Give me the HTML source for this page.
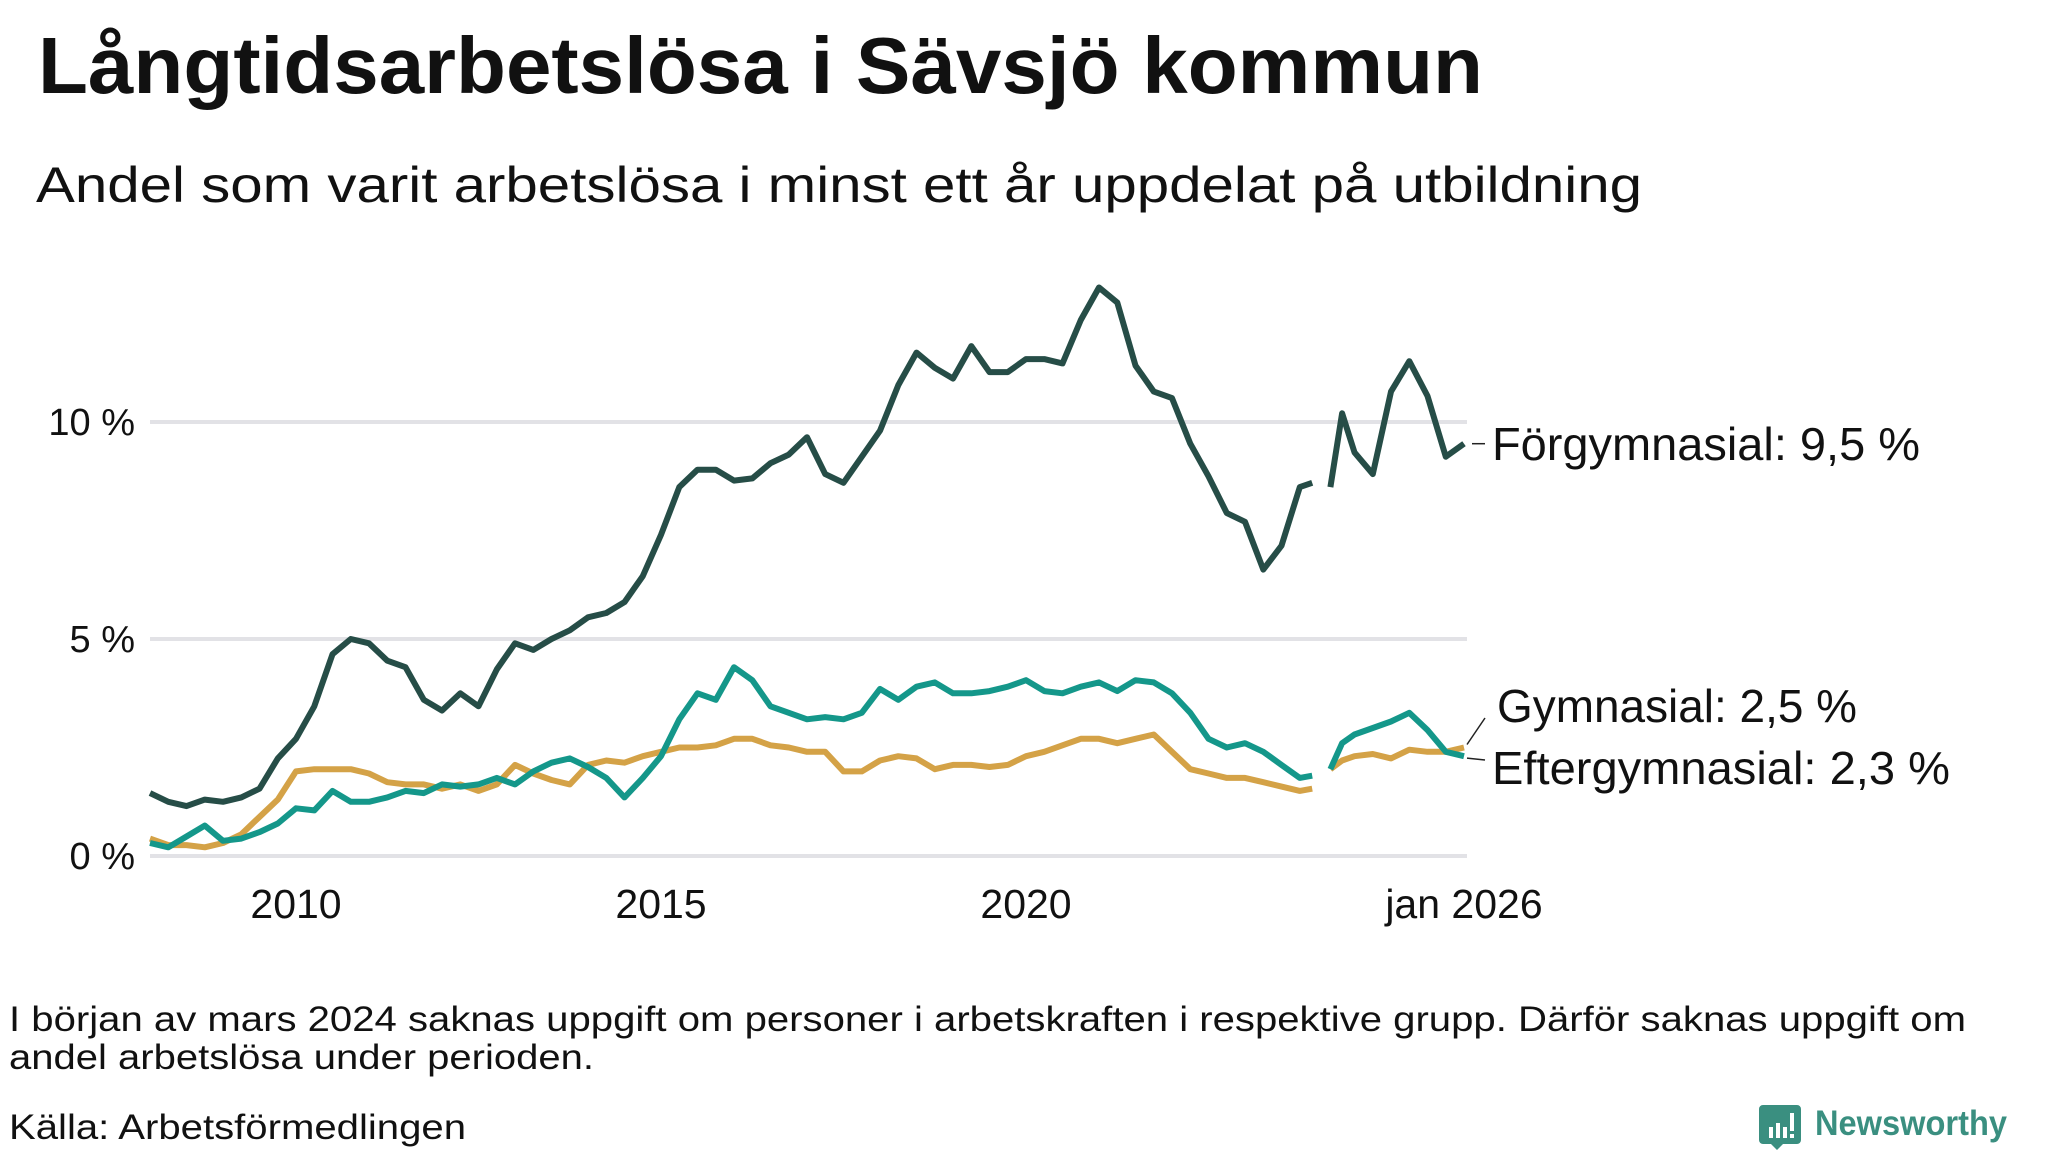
<!DOCTYPE html>
<html><head><meta charset="utf-8"><style>
html,body{margin:0;padding:0;background:#fff;}
svg{display:block;}
text{font-family:"Liberation Sans",sans-serif;fill:#111;}
</style></head><body>
<svg id="chart" width="2048" height="1152" viewBox="0 0 2048 1152" xmlns="http://www.w3.org/2000/svg">
<text x="38" y="93" font-size="80" font-weight="bold" textLength="1445" lengthAdjust="spacingAndGlyphs">Långtidsarbetslösa i Sävsjö kommun</text>
<text x="36" y="202" font-size="50" textLength="1606" lengthAdjust="spacingAndGlyphs">Andel som varit arbetslösa i minst ett år uppdelat på utbildning</text>
<g id="grid"></g>
<g id="series"></g>
<g id="labels"></g>
<text x="9" y="1031" font-size="35" textLength="1957" lengthAdjust="spacingAndGlyphs">I början av mars 2024 saknas uppgift om personer i arbetskraften i respektive grupp. Därför saknas uppgift om</text>
<text x="9" y="1069" font-size="35" textLength="585" lengthAdjust="spacingAndGlyphs">andel arbetslösa under perioden.</text>
<text x="9" y="1139" font-size="35" textLength="457" lengthAdjust="spacingAndGlyphs">Källa: Arbetsförmedlingen</text>
<g>
<path d="M1763 1105 h34 a4 4 0 0 1 4 4 v31 a4 4 0 0 1 -4 4 h-14 l-6 6 l-6 -6 h-8 a4 4 0 0 1 -4 -4 v-31 a4 4 0 0 1 4 -4z" fill="#3a8f80"/>
<rect x="1769" y="1127" width="4" height="11" fill="#fff"/><rect x="1776" y="1123" width="4" height="15" fill="#fff"/><rect x="1783" y="1127" width="4" height="11" fill="#fff"/><rect x="1790" y="1113" width="4" height="18" fill="#fff"/><rect x="1790" y="1134" width="4" height="4" fill="#fff"/>
<text x="1815" y="1135" font-size="35" font-weight="bold" style="fill:#3a8f80" textLength="192" lengthAdjust="spacingAndGlyphs">Newsworthy</text>
</g>
</svg>
<script>
const dates = [2008,2008.25,2008.5,2008.75,2009,2009.25,2009.5,2009.75,2010,2010.25,2010.5,2010.75,2011,2011.25,2011.5,2011.75,2012,2012.25,2012.5,2012.75,2013,2013.25,2013.5,2013.75,2014,2014.25,2014.5,2014.75,2015,2015.25,2015.5,2015.75,2016,2016.25,2016.5,2016.75,2017,2017.25,2017.5,2017.75,2018,2018.25,2018.5,2018.75,2019,2019.25,2019.5,2019.75,2020,2020.25,2020.5,2020.75,2021,2021.25,2021.5,2021.75,2022,2022.25,2022.5,2022.75,2023,2023.25,2023.5,2023.75,2023.92,2024.05,2024.17,2024.33,2024.5,2024.75,2025,2025.25,2025.5,2025.75,2026];
const forgymnasial = [1.45,1.25,1.15,1.3,1.25,1.35,1.55,2.25,2.7,3.45,4.65,5.0,4.9,4.5,4.35,3.6,3.35,3.75,3.45,4.3,4.9,4.75,5.0,5.2,5.5,5.6,5.85,6.45,7.4,8.5,8.9,8.9,8.65,8.7,9.05,9.25,9.65,8.8,8.6,9.2,9.8,10.85,11.6,11.25,11.0,11.75,11.15,11.15,11.45,11.45,11.35,12.35,13.1,12.75,11.3,10.7,10.55,9.5,8.75,7.9,7.7,6.6,7.15,8.5,8.6,null,8.5,10.2,9.3,8.8,10.7,11.4,10.6,9.2,9.5];
const eftergymnasial = [0.3,0.2,0.45,0.7,0.35,0.4,0.55,0.75,1.1,1.05,1.5,1.25,1.25,1.35,1.5,1.45,1.65,1.6,1.65,1.8,1.65,1.95,2.15,2.25,2.05,1.8,1.35,1.8,2.3,3.15,3.75,3.6,4.35,4.05,3.45,3.3,3.15,3.2,3.15,3.3,3.85,3.6,3.9,4.0,3.75,3.75,3.8,3.9,4.05,3.8,3.75,3.9,4.0,3.8,4.05,4.0,3.75,3.3,2.7,2.5,2.6,2.4,2.1,1.8,1.85,null,2.0,2.6,2.8,2.95,3.1,3.3,2.9,2.4,2.3];
const gymnasial = [0.4,0.25,0.25,0.2,0.3,0.5,0.9,1.3,1.95,2.0,2.0,2.0,1.9,1.7,1.65,1.65,1.55,1.65,1.5,1.65,2.1,1.9,1.75,1.65,2.1,2.2,2.15,2.3,2.4,2.5,2.5,2.55,2.7,2.7,2.55,2.5,2.4,2.4,1.95,1.95,2.2,2.3,2.25,2.0,2.1,2.1,2.05,2.1,2.3,2.4,2.55,2.7,2.7,2.6,2.7,2.8,2.4,2.0,1.9,1.8,1.8,1.7,1.6,1.5,1.55,null,2.0,2.2,2.3,2.35,2.25,2.45,2.4,2.4,2.5];
const yTicks = [0,5,10];
const yTickLabels = ["0 %","5 %","10 %"];
const xTicks = [2010,2015,2020,2026];
const xTickLabels = ["2010","2015","2020","jan 2026"];

const NS='http://www.w3.org/2000/svg';
const x0=150, x1=1464, d0=2008, d1=2026;
const yZero=856, yPer=43.4;
function xs(d){return x0+(d-d0)/(d1-d0)*(x1-x0);}
function ys(v){return yZero-v*yPer;}
function mk(tag,attrs,parent){const e=document.createElementNS(NS,tag);for(const k in attrs)e.setAttribute(k,attrs[k]);parent.appendChild(e);return e;}
const grid=document.getElementById('grid');
yTicks.forEach((t,i)=>{
  const l=mk('line',{x1:150,x2:1467,y1:ys(t),y2:ys(t),stroke:'#e2e2e6','stroke-width':4},grid);
  
  
  const tx=mk('text',{x:135,y:ys(t)+13,'font-size':38,'text-anchor':'end'},grid);
  tx.textContent=yTickLabels[i];
  
  
});
xTicks.forEach((t,i)=>{
  const tx=mk('text',{x:xs(t),y:918,'font-size':41,'text-anchor':'middle'},grid);
  tx.textContent=xTickLabels[i];
  
  
});
const sg=document.getElementById('series');
function draw(vals,color,name){
  let d='',pen=false;
  vals.forEach((v,i)=>{
    if(v===null){pen=false;return;}
    d+=(pen?'L':'M')+xs(dates[i]).toFixed(1)+' '+ys(v).toFixed(1)+' ';pen=true;
  });
  const p=mk('path',{d:d,fill:'none',stroke:color,'stroke-width':6,'stroke-linejoin':'round'},sg);
  
  
}
draw(gymnasial,'#d4a247','line-gymnasial');
draw(eftergymnasial,'#14978a','line-eftergymnasial');
draw(forgymnasial,'#264d47','line-forgymnasial');
const lg=document.getElementById('labels');
function label(txt,x,y,w,name){
  const t=mk('text',{x:x,y:y,'font-size':46,textLength:w,lengthAdjust:'spacingAndGlyphs'},lg);
  t.textContent=txt;
  
  
}
function leader(xa,ya,xb,yb,name){
  const l=mk('line',{x1:xa,y1:ya,x2:xb,y2:yb,stroke:'#222','stroke-width':1.5},lg);
  
  
}
const nL=forgymnasial.length-1;
leader(xs(2026)+8,ys(forgymnasial[nL]),1485,ys(forgymnasial[nL]),'leader-forgymnasial');
label('Förgymnasial: 9,5 %',1492,460,428,'label-forgymnasial');
leader(xs(2026)+3,ys(gymnasial[nL])-3,1485,718,'leader-gymnasial');
label('Gymnasial: 2,5 %',1497,722,360,'label-gymnasial');
leader(xs(2026)+3,ys(eftergymnasial[nL])+2,1485,760,'leader-eftergymnasial');
label('Eftergymnasial: 2,3 %',1492,784,458,'label-eftergymnasial');
</script>
</body></html>
